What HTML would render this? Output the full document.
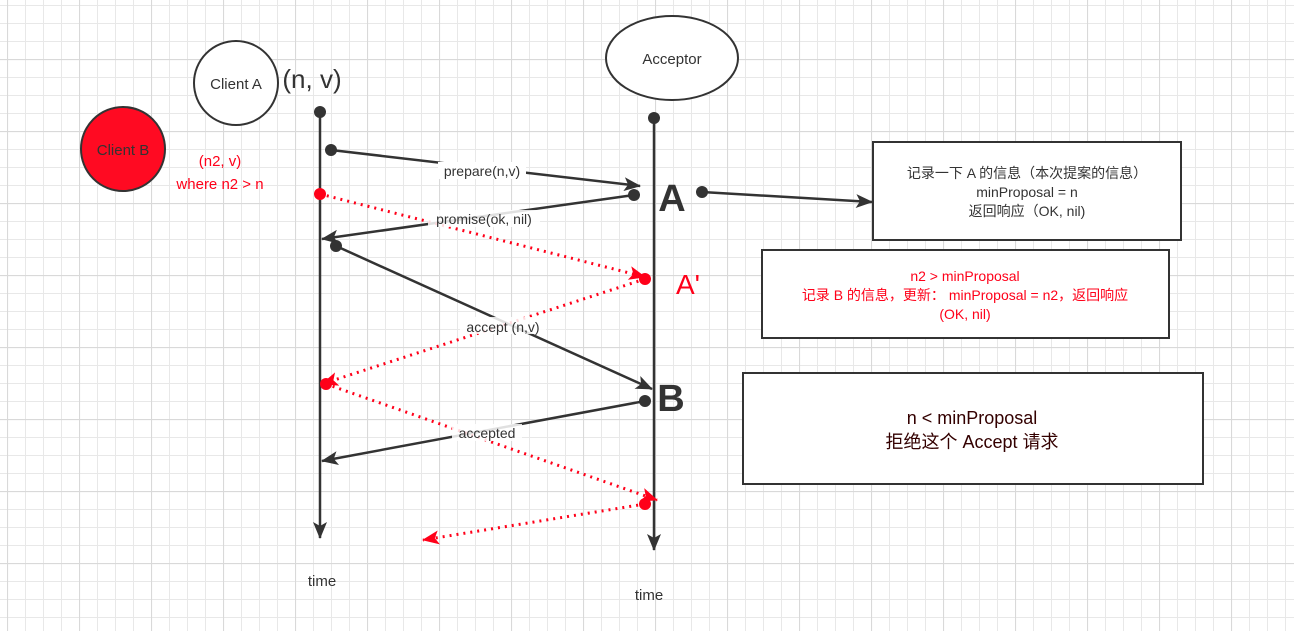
<!DOCTYPE html>
<html><head><meta charset="utf-8"><style>
html,body{margin:0;padding:0;background:#fff;}
svg{display:block;}
text{font-family:"Liberation Sans","Noto Sans CJK SC",sans-serif;}
</style></head><body>
<svg width="1294" height="631" xmlns="http://www.w3.org/2000/svg">
<defs>
<pattern id="g" x="7" y="5" width="18" height="18" patternUnits="userSpaceOnUse"><path d="M0 0.5H18M0.5 0V18" stroke="#e8e8e8" stroke-width="1" fill="none"/></pattern>
<pattern id="G" x="7" y="59" width="72" height="72" patternUnits="userSpaceOnUse"><path d="M0 0.5H72M0.5 0V72" stroke="#d9d9d9" stroke-width="1.2" fill="none"/></pattern>
<marker id="ab" markerWidth="18" markerHeight="14" refX="16" refY="7" orient="auto" markerUnits="userSpaceOnUse"><path d="M0 0L17 7L0 14L4 7Z" fill="#333"/></marker>
<marker id="ar" markerWidth="18" markerHeight="14" refX="16" refY="7" orient="auto" markerUnits="userSpaceOnUse"><path d="M0 0L17 7L0 14L4 7Z" fill="#ff0019"/></marker>
</defs>
<rect width="1294" height="631" fill="url(#g)"/>
<rect width="1294" height="631" fill="url(#G)"/>

<circle cx="236" cy="83" r="42" fill="#fff" stroke="#333" stroke-width="2"/>
<text x="236" y="89" font-size="15" fill="#333" text-anchor="middle">Client A</text>
<text x="312" y="88" font-size="26" fill="#333" text-anchor="middle">(n, v)</text>
<circle cx="123" cy="149" r="42" fill="#ff0a22" stroke="#333" stroke-width="2"/>
<text x="123" y="155" font-size="15" fill="#333" text-anchor="middle">Client B</text>
<text x="220" y="166" font-size="15" fill="#ff0019" text-anchor="middle">(n2, v)</text>
<text x="220" y="189" font-size="15" fill="#ff0019" text-anchor="middle">where n2 &gt; n</text>

<ellipse cx="672" cy="58" rx="66" ry="42" fill="#fff" stroke="#333" stroke-width="2"/>
<text x="672" y="64" font-size="15" fill="#333" text-anchor="middle">Acceptor</text>

<line x1="320" y1="112" x2="320" y2="538" stroke="#333" stroke-width="2.5" marker-end="url(#ab)"/>
<circle cx="320" cy="112" r="6" fill="#333"/>
<line x1="654" y1="118" x2="654" y2="550" stroke="#333" stroke-width="2.5" marker-end="url(#ab)"/>
<circle cx="654" cy="118" r="6" fill="#333"/>
<text x="322" y="586" font-size="15" fill="#333" text-anchor="middle">time</text>
<text x="649" y="600" font-size="15" fill="#333" text-anchor="middle">time</text>

<g stroke="#333" stroke-width="2.5" fill="none">
<line x1="331" y1="150" x2="640" y2="186" marker-end="url(#ab)"/>
<line x1="634" y1="195" x2="322" y2="239" marker-end="url(#ab)"/>
<line x1="336" y1="246" x2="652" y2="389" marker-end="url(#ab)"/>
<line x1="645" y1="401" x2="322" y2="461" marker-end="url(#ab)"/>
<line x1="702" y1="192" x2="872" y2="202" marker-end="url(#ab)"/>
</g>
<g fill="#333"><circle cx="331" cy="150" r="6"/><circle cx="634" cy="195" r="6"/><circle cx="336" cy="246" r="6"/><circle cx="645" cy="401" r="6"/><circle cx="702" cy="192" r="6"/></g>

<g stroke="#ff0019" stroke-width="3" stroke-dasharray="2 5" fill="none">
<line x1="320" y1="194" x2="645" y2="277" marker-end="url(#ar)"/>
<line x1="645" y1="279" x2="322" y2="384" marker-end="url(#ar)"/>
<line x1="326" y1="384" x2="657" y2="500" marker-end="url(#ar)"/>
<line x1="645" y1="504" x2="423" y2="540" marker-end="url(#ar)"/>
</g>
<g fill="#ff0019"><circle cx="320" cy="194" r="6"/><circle cx="645" cy="279" r="6"/><circle cx="326" cy="384" r="6"/><circle cx="645" cy="504" r="6"/></g>

<g font-size="14" fill="#333" text-anchor="middle">
<rect x="438" y="162" width="88" height="17" fill="#fff"/>
<text x="482" y="176">prepare(n,v)</text>
<rect x="428" y="210" width="112" height="17" fill="#fff" fill-opacity="0.85"/>
<text x="484" y="224">promise(ok, nil)</text>
<rect x="460" y="317" width="86" height="17" fill="#fff" fill-opacity="0.85"/>
<text x="503" y="332">accept (n,v)</text>
<rect x="452" y="424" width="70" height="17" fill="#fff" fill-opacity="0.85"/>
<text x="487" y="438">accepted</text>
</g>
<text x="672" y="211" font-size="38" font-weight="bold" fill="#333" text-anchor="middle">A</text>
<text x="688" y="294" font-size="28" fill="#ff0019" text-anchor="middle">A'</text>
<text x="671" y="411" font-size="38" font-weight="bold" fill="#333" text-anchor="middle">B</text>

<rect x="873" y="142" width="308" height="98" fill="#fff" stroke="#333" stroke-width="2"/>
<g font-size="14" fill="#333" text-anchor="middle">
<text x="1027" y="178">记录一下 A 的信息（本次提案的信息）</text>
<text x="1027" y="197">minProposal = n</text>
<text x="1027" y="216">返回响应（OK, nil)</text>
</g>
<rect x="762" y="250" width="407" height="88" fill="#fff" stroke="#333" stroke-width="2"/>
<g font-size="14" fill="#ff0019" text-anchor="middle">
<text x="965" y="281">n2 &gt; minProposal</text>
<text x="965" y="300">记录 B 的信息，更新：  minProposal = n2，返回响应</text>
<text x="965" y="319">(OK, nil)</text>
</g>
<rect x="743" y="373" width="460" height="111" fill="#fff" stroke="#333" stroke-width="2"/>
<g font-size="18" fill="#330000" text-anchor="middle">
<text x="972" y="424">n &lt;  minProposal</text>
<text x="972" y="448">拒绝这个 Accept 请求</text>
</g>
</svg>
</body></html>
